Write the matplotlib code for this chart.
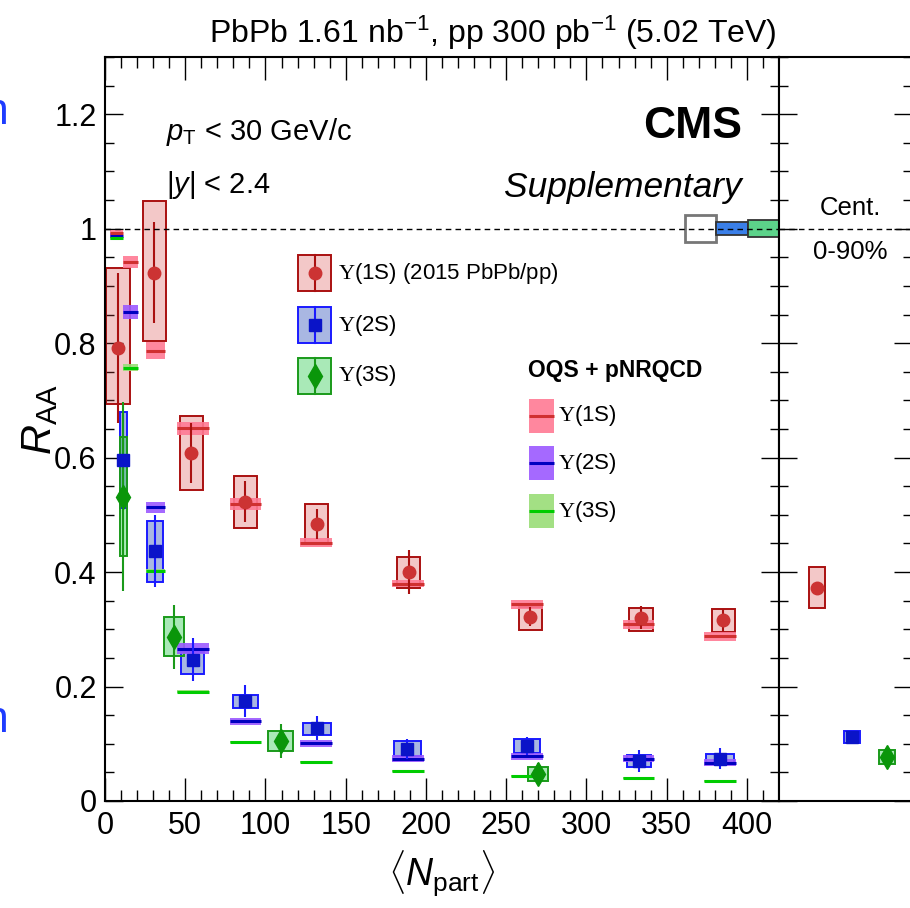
import matplotlib
matplotlib.use("Agg")
import matplotlib.pyplot as plt
from matplotlib.patches import Rectangle
from matplotlib.lines import Line2D
from matplotlib.ticker import MultipleLocator

plt.rcParams['font.family'] = ['Liberation Sans', 'DejaVu Sans']
plt.rcParams['mathtext.fontset'] = 'custom'
plt.rcParams['mathtext.rm'] = 'Liberation Sans'
plt.rcParams['mathtext.it'] = 'Liberation Sans:italic'
plt.rcParams['mathtext.bf'] = 'Liberation Sans:bold'
plt.rcParams['mathtext.sf'] = 'Liberation Sans'
plt.rcParams['mathtext.cal'] = 'Liberation Serif'

# --- data: Upsilon R_AA vs <Npart> ---
x1 = [8.1, 30.6, 53.9, 87.3, 131.9, 189.4, 265.0, 334.0, 385.4]
y1 = [0.792, 0.923, 0.608, 0.523, 0.484, 0.400, 0.322, 0.320, 0.316]
stat1 = [0.131, 0.088, 0.053, 0.036, 0.027, 0.039, 0.017, 0.020, 0.020]
sysup1 = [0.140, 0.126, 0.065, 0.045, 0.035, 0.027, 0.017, 0.017, 0.020]
sysdn1 = [0.099, 0.119, 0.064, 0.046, 0.033, 0.028, 0.023, 0.023, 0.020]
hw1 = [7.2, 7.2, 7.2, 7.2, 7.2, 7.2, 7.2, 7.2, 7.2]

x2 = [11.5, 31.25, 54.6, 87.5, 131.9, 188.5, 263.0, 332.5, 383.3]
y2 = [0.595, 0.437, 0.247, 0.174, 0.128, 0.091, 0.096, 0.070, 0.074]
stat2 = [0.080, 0.063, 0.038, 0.028, 0.021, 0.018, 0.016, 0.019, 0.018]
sysup2 = [0.084, 0.053, 0.014, 0.011, 0.009, 0.014, 0.012, 0.010, 0.008]
sysdn2 = [0.083, 0.054, 0.025, 0.011, 0.012, 0.012, 0.012, 0.010, 0.010]
hw2 = [2.0, 5.2, 7.1, 8.0, 8.7, 8.7, 8.0, 7.5, 8.5]

x3 = [11.5, 42.9, 109.4, 269.8]
y3 = [0.532, 0.287, 0.105, 0.047]
stat3 = [0.165, 0.056, 0.030, 0.019]
sys3 = [0.104, 0.034, 0.018, 0.012]
hw3 = [2.0, 6.2, 7.9, 6.2]

# OQS + pNRQCD predictions
xth = [7.1, 15.9, 31.25, 54.7, 87.5, 131.4, 188.6, 263.0, 332.4, 383.4]
hwth = [4.0, 4.9, 5.9, 9.9, 9.8, 10.0, 9.9, 10.0, 9.9, 9.9]
th1 = [0.993, 0.942, 0.787, 0.651, 0.519, 0.451, 0.380, 0.344, 0.309, 0.288]
th1err = [0.004, 0.010, 0.015, 0.012, 0.011, 0.008, 0.006, 0.008, 0.008, 0.008]
th2 = [0.988, 0.854, 0.513, 0.266, 0.139, 0.101, 0.074, 0.078, 0.074, 0.067]
th2err = [0.004, 0.012, 0.010, 0.010, 0.006, 0.006, 0.006, 0.006, 0.006, 0.006]
th3 = [0.983, 0.757, 0.402, 0.191, 0.103, 0.068, 0.053, 0.044, 0.040, 0.035]
th3err = [0.003, 0.006, 0.004, 0.003, 0.002, 0.002, 0.002, 0.002, 0.002, 0.002]

# centrality integrated (0-90%)
states = ['1S', '2S', '3S']
int_y = [0.373, 0.1115, 0.077]
int_stat = [0.010, 0.006, 0.009]
int_sys = [0.036, 0.011, 0.0125]

# global uncertainties at unity
glob_unc = [0.0235, 0.0115, 0.015]

# colors
c_pt = ['#cc3333', '#0a14c8', '#0a960a']
c_edge = ['#aa1010', '#1a1aff', '#1a9a1a']
c_face = ['#d43a3a', '#3355bb', '#33cc55']
c_band = ['#ff7a94', '#9b59ff', '#99dd77']
c_line = ['#d03030', '#0000c0', '#00cc00']
markers = ['o', 's', 'd']
msizes = [9, 8.5, 12.5]
face_alpha = [0.28, 0.42, 0.42]

W, H = 910, 908
fig = plt.figure(figsize=(W / 100, H / 100), dpi=100)


def fpos(px, py):
    return px / W, 1 - py / H


ax = fig.add_axes([105 / W, (H - 801) / H, 674 / W, 744 / H])
ax2 = fig.add_axes([779 / W, (H - 801) / H, 133 / W, 744 / H])


def draw_boxes(a, xs, ys, up, dn, hw, i):
    for x, y, u, d, w in zip(xs, ys, up, dn, hw):
        a.add_patch(Rectangle((x - w, y - d), 2 * w, u + d, facecolor=c_face[i],
                              alpha=face_alpha[i], edgecolor='none', zorder=2))
        a.add_patch(Rectangle((x - w, y - d), 2 * w, u + d, facecolor='none',
                              edgecolor=c_edge[i], lw=1.4, zorder=2.1))


def draw_points(a, xs, ys, st, i):
    a.vlines(xs, [y - s for y, s in zip(ys, st)], [y + s for y, s in zip(ys, st)],
             color=c_edge[i], lw=1.5, zorder=4)
    a.plot(xs, ys, ls='none', marker=markers[i], ms=msizes[i], color=c_pt[i],
           mec=c_pt[i], zorder=5)


def draw_theory(a, xs, ys, err, hw, i):
    for x, y, e, w in zip(xs, ys, err, hw):
        a.add_patch(Rectangle((x - w, y - e), 2 * w, 2 * e, facecolor=c_band[i],
                              edgecolor='none', alpha=0.9, zorder=3))
        a.plot([x - w, x + w], [y, y], color=c_line[i], lw=2.2, zorder=3.1,
               solid_capstyle='butt')


draw_boxes(ax, x1, y1, sysup1, sysdn1, hw1, 0)
draw_boxes(ax, x2, y2, sysup2, sysdn2, hw2, 1)
draw_boxes(ax, x3, y3, sys3, sys3, hw3, 2)
draw_theory(ax, xth, th1, th1err, hwth, 0)
draw_theory(ax, xth, th2, th2err, hwth, 1)
draw_theory(ax, xth, th3, th3err, hwth, 2)
draw_points(ax, x1, y1, stat1, 0)
draw_points(ax, x2, y2, stat2, 1)
draw_points(ax, x3, y3, stat3, 2)

# global uncertainty boxes at the right edge
gw = 19.5
for k, g in enumerate(glob_unc):
    x0 = 420 - (3 - k) * gw
    if k == 0:
        ax.add_patch(Rectangle((x0, 1 - g), gw, 2 * g, facecolor='white',
                               edgecolor='#777777', lw=2, zorder=3))
    else:
        ax.add_patch(Rectangle((x0, 1 - g), gw, 2 * g,
                               facecolor=['#3a7fe8', '#5cd38a'][k - 1],
                               edgecolor='#333333', lw=1.3, zorder=3))

# integrated panel
xi = list(range(len(states)))
for i in range(3):
    draw_boxes(ax2, [xi[i]], [int_y[i]], [int_sys[i]], [int_sys[i]], [0.237], i)
    draw_points(ax2, [xi[i]], [int_y[i]], [int_stat[i]], i)

for a in (ax, ax2):
    a.axhline(1.0, color='black', lw=1.0, ls=(0, (4, 3)), zorder=6)
    a.set_ylim(0, 1.3)
    a.yaxis.set_major_locator(MultipleLocator(0.2))
    a.yaxis.set_minor_locator(MultipleLocator(0.05))
    for s in a.spines.values():
        s.set_linewidth(1.5)

ax.set_xlim(0, 420)
ax.xaxis.set_major_locator(MultipleLocator(50))
ax.xaxis.set_minor_locator(MultipleLocator(10))
ax.set_xticks(range(0, 401, 50))
ax.tick_params(axis='x', which='major', direction='in', top=True, length=16.5,
               width=1.0, labelsize=22, pad=7)
ax.tick_params(axis='x', which='minor', direction='in', top=True, length=7.6, width=1.0)
ax.tick_params(axis='y', which='major', direction='in', right=True, length=13,
               width=1.0, labelsize=22, pad=6)
ax.tick_params(axis='y', which='minor', direction='in', right=True, length=6.5, width=1.0)
ax.set_yticks([0, 0.2, 0.4, 0.6, 0.8, 1.0, 1.2])
ax.set_yticklabels(['0', '0.2', '0.4', '0.6', '0.8', '1', '1.2'])

ax2.set_xlim(-1.086, 2.714)
ax2.set_xticks([])
ax2.tick_params(axis='y', which='major', direction='in', left=True, right=True,
                length=13, width=1.0, labelleft=False)
ax2.tick_params(axis='y', which='minor', direction='in', left=True, right=True,
                length=6.5, width=1.0)

# texts
fig.text(*fpos(493, 33), r'PbPb 1.61 nb$^{\mathregular{-1}}$, pp 300 pb$^{\mathregular{-1}}$ (5.02 TeV)',
         ha='center', va='center', fontsize=23)
fig.text(*fpos(742, 126), 'CMS', ha='right', va='center', fontsize=32, fontweight='bold')
fig.text(*fpos(742, 188), 'Supplementary', ha='right', va='center', fontsize=25.5,
         style='italic')
fig.text(*fpos(166, 132), r'$p_{\mathrm{T}}$ < 30 GeV/c', ha='left', va='center', fontsize=21)
fig.text(*fpos(166, 185), r'|$y$| < 2.4', ha='left', va='center', fontsize=21)
fig.text(*fpos(850, 208), 'Cent.', ha='center', va='center', fontsize=18.5)
fig.text(*fpos(850, 252), '0-90%', ha='center', va='center', fontsize=18.5)
fig.text(*fpos(40, 420), r'$R_{\mathrm{AA}}$', ha='center', va='center', fontsize=30,
         rotation=90)
fig.text(*fpos(442, 886), r'$\langle N_{\mathrm{part}}\rangle$', ha='center', va='baseline',
         fontsize=27)
for yb in (113, 720):
    fig.text(*fpos(9, yb), 'n', ha='right', va='center', fontsize=32, color='#1e3cff')

# legend: data
leg_labels = [r'$\mathcal{\Upsilon}$(1S) (2015 PbPb/pp)', r'$\mathcal{\Upsilon}$(2S)',
              r'$\mathcal{\Upsilon}$(3S)']
leg_y = [273, 325, 376]
for i in range(3):
    l, t = fpos(298, leg_y[i] - 18)
    r, b = fpos(331, leg_y[i] + 18)
    fig.add_artist(Rectangle((l, b), r - l, t - b, transform=fig.transFigure,
                             facecolor=c_face[i], alpha=face_alpha[i], edgecolor='none'))
    fig.add_artist(Rectangle((l, b), r - l, t - b, transform=fig.transFigure,
                             facecolor='none', edgecolor=c_edge[i], lw=1.4))
    cx = (l + r) / 2
    fig.add_artist(Line2D([cx, cx], [b, t], transform=fig.transFigure, color=c_edge[i], lw=1.5))
    fig.add_artist(Line2D([cx], [(b + t) / 2], transform=fig.transFigure, marker=markers[i],
                          ms=msizes[i], color=c_pt[i], ls='none'))
    fig.text(*fpos(338, leg_y[i]), leg_labels[i], ha='left', va='center', fontsize=16)

# legend: theory
fig.text(*fpos(528, 370), 'OQS + pNRQCD', ha='left', va='center', fontsize=16.5,
         fontweight='bold')
th_y = [416, 463, 511]
for i in range(3):
    l, t = fpos(529, th_y[i] - 17)
    r, b = fpos(554, th_y[i] + 17)
    fig.add_artist(Rectangle((l, b), r - l, t - b, transform=fig.transFigure,
                             facecolor=c_band[i], edgecolor='none', alpha=0.9))
    fig.add_artist(Line2D([l, r], [(b + t) / 2] * 2, transform=fig.transFigure,
                          color=c_line[i], lw=2.2, solid_capstyle='butt'))
    fig.text(*fpos(558, th_y[i]), r'$\mathcal{\Upsilon}$(%s)' % states[i], ha='left',
             va='center', fontsize=16)

fig.savefig('out.png', dpi=100)
